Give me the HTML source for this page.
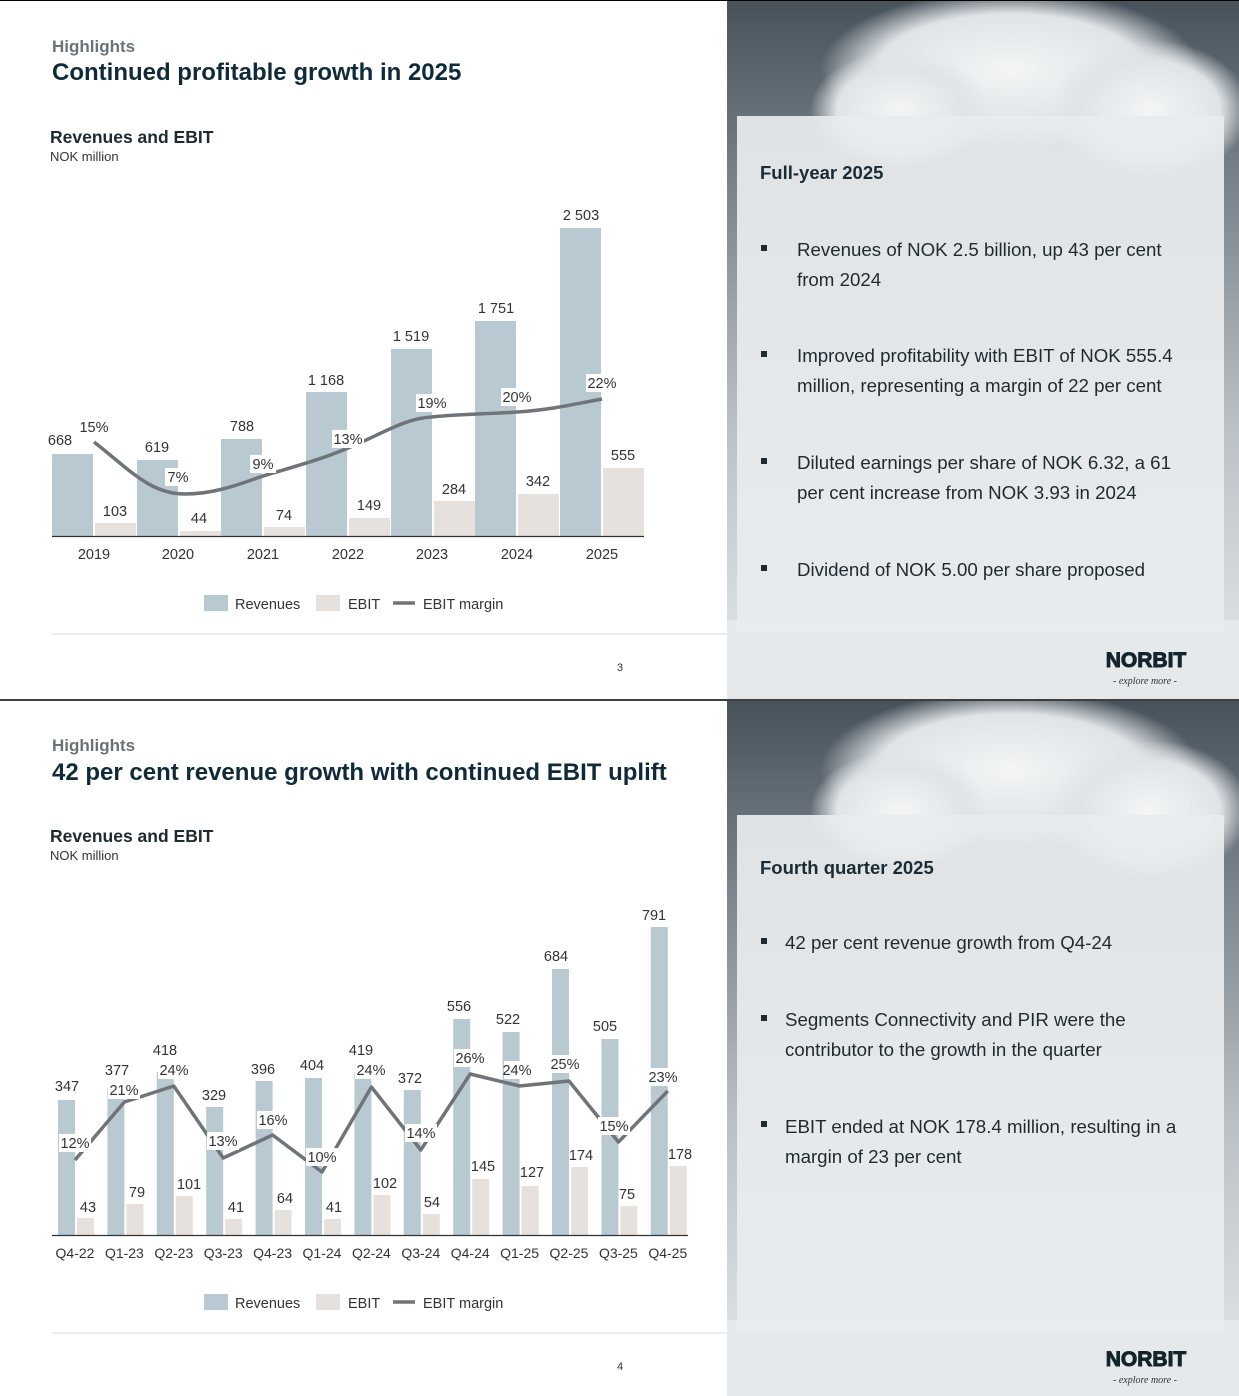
<!DOCTYPE html>
<html><head><meta charset="utf-8"><style>
html,body{margin:0;padding:0;background:#fff}
svg{display:block}
text{font-family:"Liberation Sans",sans-serif}
.t{font-size:14.5px;fill:#333;text-anchor:middle}
.lab{font-size:14.5px;fill:#333}
.b{font-size:18.7px;fill:#1f2a30}
</style></head><body>
<svg width="1239" height="1396" viewBox="0 0 1239 1396" xmlns="http://www.w3.org/2000/svg">
<defs>
<linearGradient id="bg" x1="0" y1="0" x2="0" y2="1">
<stop offset="0" stop-color="#48525b"/><stop offset="0.35" stop-color="#8a939a"/><stop offset="0.6" stop-color="#b9c0c5"/><stop offset="1" stop-color="#e6e9eb"/>
</linearGradient>
<radialGradient id="cl" cx="0.5" cy="0.5" r="0.5"><stop offset="0" stop-color="#f3f5f6"/><stop offset="0.7" stop-color="#dfe4e7"/><stop offset="1" stop-color="#dfe4e7" stop-opacity="0"/></radialGradient>
</defs>
<rect width="1239" height="1396" fill="#fff"/>
<g>
<rect x="727" y="1" width="512" height="698" fill="url(#bg)"/>
<ellipse cx="1010" cy="70" rx="190" ry="80" fill="url(#cl)"/>
<ellipse cx="900" cy="110" rx="90" ry="60" fill="url(#cl)"/>
<ellipse cx="1150" cy="110" rx="100" ry="70" fill="url(#cl)"/>
<rect x="727" y="620" width="512" height="79" fill="#e6e9eb"/>
<rect x="737" y="116" width="487" height="517" fill="#e8ecee" opacity="0.93"/>
</g>
<g>
<rect x="727" y="701" width="512" height="695" fill="url(#bg)"/>
<ellipse cx="1010" cy="770" rx="190" ry="80" fill="url(#cl)"/>
<ellipse cx="900" cy="810" rx="90" ry="60" fill="url(#cl)"/>
<ellipse cx="1150" cy="810" rx="100" ry="70" fill="url(#cl)"/>
<rect x="727" y="1320" width="512" height="76" fill="#e6e9eb"/>
<rect x="737" y="815" width="487" height="517" fill="#e8ecee" opacity="0.93"/>
</g>
<line x1="0" y1="0.5" x2="1239" y2="0.5" stroke="#000" stroke-width="1"/>
<line x1="0" y1="700" x2="1239" y2="700" stroke="#000" stroke-width="1.5"/>

<text x="52" y="52" style="font-size:17px;fill:#6b7378;font-weight:bold">Highlights</text>
<text x="52" y="80" style="font-size:24px;fill:#0f2b3a;font-weight:bold">Continued profitable growth in 2025</text>
<text x="50" y="143" style="font-size:17.5px;fill:#1f2a30;font-weight:bold">Revenues and EBIT</text>
<text x="50" y="161" style="font-size:13px;fill:#333">NOK million</text>
<g fill="#b9c9d1">
<rect x="52" y="454" width="41" height="82"/><rect x="137" y="460" width="41" height="76"/><rect x="221" y="439" width="41" height="97"/><rect x="306" y="392" width="41" height="144"/><rect x="391" y="349" width="41" height="187"/><rect x="475" y="321" width="41" height="215"/><rect x="560" y="228" width="41" height="308"/>
</g>
<g fill="#e6e1dc">
<rect x="95" y="523" width="41" height="13"/><rect x="180" y="531" width="41" height="5"/><rect x="264" y="527" width="41" height="9"/><rect x="349" y="518" width="41" height="18"/><rect x="434" y="501" width="41" height="35"/><rect x="518" y="494" width="41" height="42"/><rect x="603" y="468" width="41" height="68"/>
</g>
<line x1="52" y1="536.5" x2="644" y2="536.5" stroke="#333" stroke-width="1.3"/>
<path d="M94,442 C130,470 150,494 185,494 C215,494 240,484 263,476 C300,465 325,458 348,448 C380,435 405,418 432,417 C460,414 490,414 517,412 C550,410 575,404 602,399" fill="none" stroke="#6f7479" stroke-width="3.5"/>
<g class="t">
<text x="60" y="445">668</text><text x="157" y="452">619</text><text x="242" y="431">788</text><text x="326" y="385">1 168</text><text x="411" y="341">1 519</text><text x="496" y="313">1 751</text><text x="581" y="220">2 503</text>
<text x="115" y="516">103</text><text x="199" y="523">44</text><text x="284" y="520">74</text><text x="369" y="510">149</text><text x="454" y="494">284</text><text x="538" y="486">342</text><text x="623" y="460">555</text>
</g>
<g class="t">
<rect x="78" y="418" width="32" height="18" fill="#fff"/><text x="94" y="432">15%</text>
<rect x="165" y="468" width="26" height="18" fill="#fff"/><text x="178" y="482">7%</text>
<rect x="250" y="455" width="26" height="18" fill="#fff"/><text x="263" y="469">9%</text>
<rect x="332" y="430" width="32" height="18" fill="#fff"/><text x="348" y="444">13%</text>
<rect x="416" y="394" width="32" height="18" fill="#fff"/><text x="432" y="408">19%</text>
<rect x="501" y="388" width="32" height="18" fill="#fff"/><text x="517" y="402">20%</text>
<rect x="586" y="374" width="32" height="18" fill="#fff"/><text x="602" y="388">22%</text>
</g>
<g class="t">
<text x="94" y="559">2019</text><text x="178" y="559">2020</text><text x="263" y="559">2021</text><text x="348" y="559">2022</text><text x="432" y="559">2023</text><text x="517" y="559">2024</text><text x="602" y="559">2025</text>
</g>
<rect x="204" y="595" width="24" height="16" fill="#b9c9d1"/><text class="lab" x="235" y="609">Revenues</text>
<rect x="316" y="595" width="24" height="16" fill="#e6e1dc"/><text class="lab" x="348" y="609">EBIT</text>
<line x1="393" y1="603" x2="415" y2="603" stroke="#6f7479" stroke-width="3.5"/><text class="lab" x="423" y="609">EBIT margin</text>
<line x1="52" y1="634" x2="727" y2="634" stroke="#d8d8d8"/>
<text x="620" y="671" style="font-size:11px;fill:#333;text-anchor:middle">3</text>

<text x="760" y="179" style="font-size:18.5px;fill:#1a2b35;font-weight:bold">Full-year 2025</text>
<g class="b">
<rect x="761" y="245" width="6" height="6" fill="#1f2a30"/>
<text x="797" y="256">Revenues of NOK 2.5 billion, up 43 per cent</text><text x="797" y="286">from 2024</text>
<rect x="761" y="351" width="6" height="6" fill="#1f2a30"/>
<text x="797" y="362">Improved profitability with EBIT of NOK 555.4</text><text x="797" y="392">million, representing a margin of 22 per cent</text>
<rect x="761" y="458" width="6" height="6" fill="#1f2a30"/>
<text x="797" y="469">Diluted earnings per share of NOK 6.32, a 61</text><text x="797" y="499">per cent increase from NOK 3.93 in 2024</text>
<rect x="761" y="565" width="6" height="6" fill="#1f2a30"/>
<text x="797" y="576">Dividend of NOK 5.00 per share proposed</text>
</g>
<text x="1146" y="667" style="font-size:21px;font-weight:900;fill:#13242d;text-anchor:middle;stroke:#13242d;stroke-width:1">NORBIT</text>
<text x="1145" y="684" style="font-size:10px;font-style:italic;fill:#333;text-anchor:middle;font-family:'Liberation Serif',serif">- explore more -</text>

<text x="52" y="751" style="font-size:17px;fill:#6b7378;font-weight:bold">Highlights</text>
<text x="52" y="780" style="font-size:24px;fill:#0f2b3a;font-weight:bold">42 per cent revenue growth with continued EBIT uplift</text>
<text x="50" y="842" style="font-size:17.5px;fill:#1f2a30;font-weight:bold">Revenues and EBIT</text>
<text x="50" y="860" style="font-size:13px;fill:#333">NOK million</text>
<g fill="#b9c9d1">
<rect x="58" y="1100" width="17" height="135"/><rect x="107.4" y="1088" width="17" height="147"/><rect x="156.8" y="1072" width="17" height="163"/><rect x="206.2" y="1107" width="17" height="128"/><rect x="255.6" y="1081" width="17" height="154"/><rect x="305" y="1078" width="17" height="157"/><rect x="354.4" y="1072" width="17" height="163"/><rect x="403.8" y="1090" width="17" height="145"/><rect x="453.2" y="1019" width="17" height="216"/><rect x="502.6" y="1032" width="17" height="203"/><rect x="552" y="969" width="17" height="266"/><rect x="601.4" y="1039" width="17" height="196"/><rect x="650.8" y="927" width="17" height="308"/>
</g>
<g fill="#e6e1dc">
<rect x="77" y="1218" width="17" height="17"/><rect x="126.4" y="1204" width="17" height="31"/><rect x="175.8" y="1196" width="17" height="39"/><rect x="225.2" y="1219" width="17" height="16"/><rect x="274.6" y="1210" width="17" height="25"/><rect x="324" y="1219" width="17" height="16"/><rect x="373.4" y="1195" width="17" height="40"/><rect x="422.8" y="1214" width="17" height="21"/><rect x="472.2" y="1179" width="17" height="56"/><rect x="521.6" y="1186" width="17" height="49"/><rect x="571" y="1167" width="17" height="68"/><rect x="620.4" y="1206" width="17" height="29"/><rect x="669.8" y="1166" width="17" height="69"/>
</g>
<line x1="52" y1="1235.5" x2="688" y2="1235.5" stroke="#333" stroke-width="1.3"/>
<polyline points="75,1160 124.4,1102 173.8,1086 223.2,1158 272.6,1135 322,1172 371.4,1087 420.8,1150 470.2,1074 519.6,1086 569,1081 618.4,1142 667.8,1091" fill="none" stroke="#6f7479" stroke-width="3.5" stroke-linejoin="round"/>
<g class="t">
<text x="67" y="1091">347</text><text x="117" y="1075">377</text><text x="165" y="1055">418</text><text x="214" y="1100">329</text><text x="263" y="1074">396</text><text x="312" y="1070">404</text><text x="361" y="1055">419</text><text x="410" y="1083">372</text><text x="459" y="1011">556</text><text x="508" y="1024">522</text><text x="556" y="961">684</text><text x="605" y="1031">505</text><text x="654" y="920">791</text>
<text x="88" y="1212">43</text><text x="137" y="1197">79</text><text x="189" y="1189">101</text><text x="236" y="1212">41</text><text x="285" y="1203">64</text><text x="334" y="1212">41</text><text x="385" y="1188">102</text><text x="432" y="1207">54</text><text x="483" y="1171">145</text><text x="532" y="1177">127</text><text x="581" y="1160">174</text><text x="627" y="1199">75</text><text x="680" y="1159">178</text>
</g>
<g class="t">
<rect x="59" y="1134" width="32" height="18" fill="#fff"/><text x="75" y="1148">12%</text>
<rect x="108" y="1081" width="32" height="18" fill="#fff"/><text x="124" y="1095">21%</text>
<rect x="158" y="1061" width="32" height="18" fill="#fff"/><text x="174" y="1075">24%</text>
<rect x="207" y="1132" width="32" height="18" fill="#fff"/><text x="223" y="1146">13%</text>
<rect x="257" y="1111" width="32" height="18" fill="#fff"/><text x="273" y="1125">16%</text>
<rect x="306" y="1148" width="32" height="18" fill="#fff"/><text x="322" y="1162">10%</text>
<rect x="355" y="1061" width="32" height="18" fill="#fff"/><text x="371" y="1075">24%</text>
<rect x="405" y="1124" width="32" height="18" fill="#fff"/><text x="421" y="1138">14%</text>
<rect x="454" y="1049" width="32" height="18" fill="#fff"/><text x="470" y="1063">26%</text>
<rect x="504" y="1061" width="32" height="18" fill="#fff"/><text x="517" y="1075">24%</text>
<rect x="549" y="1055" width="32" height="18" fill="#fff"/><text x="565" y="1069">25%</text>
<rect x="598" y="1117" width="32" height="18" fill="#fff"/><text x="614" y="1131">15%</text>
<rect x="647" y="1068" width="32" height="18" fill="#fff"/><text x="663" y="1082">23%</text>
</g>
<g class="t" style="font-size:14px">
<text x="75" y="1258">Q4-22</text><text x="124.4" y="1258">Q1-23</text><text x="173.8" y="1258">Q2-23</text><text x="223.2" y="1258">Q3-23</text><text x="272.6" y="1258">Q4-23</text><text x="322" y="1258">Q1-24</text><text x="371.4" y="1258">Q2-24</text><text x="420.8" y="1258">Q3-24</text><text x="470.2" y="1258">Q4-24</text><text x="519.6" y="1258">Q1-25</text><text x="569" y="1258">Q2-25</text><text x="618.4" y="1258">Q3-25</text><text x="667.8" y="1258">Q4-25</text>
</g>
<rect x="204" y="1294" width="24" height="16" fill="#b9c9d1"/><text class="lab" x="235" y="1308">Revenues</text>
<rect x="316" y="1294" width="24" height="16" fill="#e6e1dc"/><text class="lab" x="348" y="1308">EBIT</text>
<line x1="393" y1="1302" x2="415" y2="1302" stroke="#6f7479" stroke-width="3.5"/><text class="lab" x="423" y="1308">EBIT margin</text>
<line x1="52" y1="1333" x2="727" y2="1333" stroke="#d8d8d8"/>
<text x="620" y="1370" style="font-size:11px;fill:#333;text-anchor:middle">4</text>

<text x="760" y="874" style="font-size:18.5px;fill:#1a2b35;font-weight:bold">Fourth quarter 2025</text>
<g class="b">
<rect x="761" y="938" width="6" height="6" fill="#1f2a30"/>
<text x="785" y="949">42 per cent revenue growth from Q4-24</text>
<rect x="761" y="1015" width="6" height="6" fill="#1f2a30"/>
<text x="785" y="1026">Segments Connectivity and PIR were the</text><text x="785" y="1056">contributor to the growth in the quarter</text>
<rect x="761" y="1121" width="6" height="6" fill="#1f2a30"/>
<text x="785" y="1133">EBIT ended at NOK 178.4 million, resulting in a</text><text x="785" y="1163">margin of 23 per cent</text>
</g>
<text x="1146" y="1366" style="font-size:21px;font-weight:900;fill:#13242d;text-anchor:middle;stroke:#13242d;stroke-width:1">NORBIT</text>
<text x="1145" y="1383" style="font-size:10px;font-style:italic;fill:#333;text-anchor:middle;font-family:'Liberation Serif',serif">- explore more -</text>
</svg>
</body></html>
